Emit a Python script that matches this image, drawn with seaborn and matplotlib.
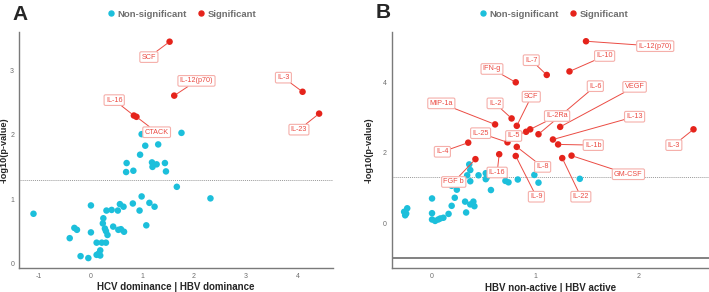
import matplotlib
matplotlib.use("Agg")
import matplotlib.pyplot as plt
from matplotlib.lines import Line2D
import seaborn as sns
import pandas as pd

sns.set_style("white")
plt.rcParams['font.family'] = ['Liberation Sans', 'DejaVu Sans']
plt.rcParams['axes.unicode_minus'] = False

# ---------------- data: panel A ----------------
a_ns_x = [-1.10, 0.01, -0.31, -0.26, -0.40, -0.19, -0.04, 0.01, 0.12, 0.22, 0.30,
          0.19, 0.16, 0.19, 0.12, 0.25, 0.24, 0.28, 0.30, 0.33, 0.31, 0.41, 0.44,
          0.53, 0.57, 0.64, 0.54, 0.59, 0.65, 0.82, 0.95, 0.99, 1.08, 1.14, 1.24,
          1.67, 2.32, 0.70, 0.69, 0.83, 1.19, 1.20, 1.28, 1.44, 1.46, 0.96, 1.06,
          1.31, 0.99, 1.76]
a_ns_y = [0.77, 0.90, 0.55, 0.52, 0.39, 0.11, 0.08, 0.48, 0.32, 0.32, 0.32,
          0.20, 0.15, 0.12, 0.13, 0.70, 0.62, 0.54, 0.50, 0.44, 0.82, 0.83, 0.57,
          0.82, 0.92, 0.88, 0.52, 0.53, 0.49, 0.93, 0.82, 1.04, 0.59, 0.94, 0.88,
          1.19, 1.01, 1.56, 1.42, 1.44, 1.57, 1.50, 1.54, 1.56, 1.43, 1.69, 1.83,
          1.85, 2.01, 2.03]
a_sig_names = ["SCF", "IL-12(p70)", "IL-3", "IL-23", "IL-16", "CTACK"]
a_sig_x = [1.53, 1.62, 4.10, 4.42, 0.84, 0.89]
a_sig_y = [3.45, 2.61, 2.67, 2.33, 2.30, 2.28]

# ---------------- data: panel B ----------------
b_ns_x = [-0.27, -0.24, -0.26, -0.25, 0.00, 0.00, 0.00, 0.03, 0.06, 0.08, 0.11,
          0.16, 0.19, 0.22, 0.19, 0.24, 0.32, 0.37, 0.40, 0.41, 0.33, 0.36, 0.37,
          0.34, 0.37, 0.45, 0.52, 0.53, 0.52, 0.57, 0.71, 0.74, 0.83, 0.99, 1.03,
          1.43]
b_ns_y = [0.32, 0.42, 0.22, 0.27, 0.70, 0.28, 0.10, 0.06, 0.10, 0.13, 0.15,
          0.26, 0.49, 0.72, 1.06, 0.95, 0.61, 0.53, 0.61, 0.48, 0.30, 1.67, 1.51,
          1.36, 1.19, 1.36, 1.42, 1.30, 1.25, 0.94, 1.20, 1.16, 1.24, 1.37, 1.15,
          1.26]
b_sig_names = ["IL-12(p70)", "IL-10", "IL-7", "IFN-g", "IL-6", "VEGF", "SCF", "MIP-1a",
               "IL-2", "IL-2Ra", "IL-13", "IL-25", "IL-5", "IL-1b", "IL-3", "IL-4",
               "IL-8", "GM-CSF", "IL-16", "FGF b", "IL-9", "IL-22"]
b_sig_x = [1.49, 1.33, 1.11, 0.81, 1.03, 1.24, 0.82, 0.61, 0.77, 0.95, 1.17, 0.73,
           0.91, 1.22, 2.53, 0.35, 0.82, 1.35, 0.65, 0.42, 0.81, 1.26]
b_sig_y = [5.18, 4.32, 4.22, 4.01, 2.53, 2.74, 2.77, 2.81, 2.98, 2.67, 2.38, 2.30,
           2.60, 2.24, 2.67, 2.29, 2.17, 1.92, 1.96, 1.82, 1.91, 1.85]

# label positions (layout)
a_label_pos = {"SCF": (1.13, 3.21), "IL-12(p70)": (2.05, 2.84), "IL-3": (3.73, 2.89),
               "IL-23": (4.03, 2.08), "IL-16": (0.46, 2.54), "CTACK": (1.28, 2.04)}
b_label_pos = {"IL-12(p70)": (2.16, 5.04), "IL-10": (1.67, 4.76), "IL-7": (0.96, 4.64),
               "IFN-g": (0.58, 4.39), "IL-6": (1.58, 3.90), "VEGF": (1.96, 3.88),
               "SCF": (0.96, 3.60), "MIP-1a": (0.09, 3.41), "IL-2": (0.61, 3.41),
               "IL-2Ra": (1.21, 3.05), "IL-13": (1.96, 3.03), "IL-25": (0.47, 2.56),
               "IL-5": (0.79, 2.48), "IL-1b": (1.56, 2.22), "IL-3": (2.34, 2.22),
               "IL-4": (0.10, 2.03), "IL-8": (1.07, 1.60), "GM-CSF": (1.90, 1.39),
               "IL-16": (0.63, 1.44), "FGF b": (0.21, 1.17), "IL-9": (1.01, 0.75),
               "IL-22": (1.44, 0.75)}

CYAN = "#1CBFDB"
RED = "#E5231B"
LABEL_RED = "#EB4B43"
BOX_EDGE = "#F5AFAA"

def make_df(nsx, nsy, sx, sy):
    return pd.DataFrame({
        "x": list(nsx) + list(sx),
        "y": list(nsy) + list(sy),
        "status": ["Non-significant"] * len(nsx) + ["Significant"] * len(sx),
    })

fig = plt.figure(figsize=(7.09, 2.92), dpi=100)
axA = fig.add_axes([0.0268, 0.0832, 0.443, 0.807])
axB = fig.add_axes([0.5525, 0.0812, 0.4475, 0.810])

def style_axis(ax):
    sns.despine(ax=ax)
    for s in ["left", "bottom"]:
        ax.spines[s].set_color("#7a7a7a")
        ax.spines[s].set_linewidth(1.0)
    ax.tick_params(axis="both", labelsize=5, colors="#7a7a7a", length=2, width=0.6,
                   labelcolor="#6e6e6e", pad=1.5)
    ax.set_facecolor("white")

def draw_panel(ax, nsx, nsy, names, sx, sy, label_pos):
    df = make_df(nsx, nsy, sx, sy)
    sns.scatterplot(data=df, x="x", y="y", hue="status",
                    palette={"Non-significant": CYAN, "Significant": RED},
                    s=22, linewidth=0, legend=False, ax=ax, zorder=3)
    for n, x, y in zip(names, sx, sy):
        lx, ly = label_pos[n]
        ax.annotate(n, xy=(x, y), xytext=(lx, ly), ha="center", va="center",
                    fontsize=5.2, color=LABEL_RED, zorder=4,
                    bbox=dict(boxstyle="round,pad=0.25,rounding_size=0.2",
                              fc="white", ec=BOX_EDGE, lw=0.8),
                    arrowprops=dict(arrowstyle="-", color=LABEL_RED, lw=0.7,
                                    shrinkA=0, shrinkB=2))

# Panel A
draw_panel(axA, a_ns_x, a_ns_y, a_sig_names, a_sig_x, a_sig_y, a_label_pos)
axA.axhline(1.301, color="#9a9a9a", lw=0.7, ls=(0, (1, 1)), zorder=1)
axA.set_xlim(-1.38, 4.69)
axA.set_ylim(-0.07, 3.6)
axA.set_xticks([-1, 0, 1, 2, 3, 4])
axA.set_yticks([0, 1, 2, 3])
style_axis(axA)
axA.set_xlabel("HCV dominance | HBV dominance", fontsize=7, fontweight="bold", labelpad=2)
axA.set_ylabel("-log10(p-value)", fontsize=6.6, fontweight="bold")
axA.yaxis.set_label_coords(-0.034, 0.5)

# Panel B
draw_panel(axB, b_ns_x, b_ns_y, b_sig_names, b_sig_x, b_sig_y, b_label_pos)
axB.axhline(1.301, color="#9a9a9a", lw=0.7, ls=(0, (1, 1)), zorder=1)
axB.axhline(-1.0, color="#777777", lw=1.3, zorder=1)
axB.set_xlim(-0.39, 2.68)
axB.set_ylim(-1.29, 5.45)
axB.set_xticks([0, 1, 2])
axB.set_yticks([0, 2, 4])
style_axis(axB)
axB.set_xlabel("HBV non-active | HBV active", fontsize=7, fontweight="bold", labelpad=2)
axB.set_ylabel("-log10(p-value)", fontsize=6.6, fontweight="bold")
axB.yaxis.set_label_coords(-0.058, 0.5)

# Legends
handles = [Line2D([], [], marker="o", ls="", color=CYAN, markersize=3.6),
           Line2D([], [], marker="o", ls="", color=RED, markersize=3.6)]
labels = ["Non-significant", "Significant"]
for cx in (0.255, 0.780):
    fig.legend(handles, labels, ncol=2, loc="center", bbox_to_anchor=(cx, 0.952),
               frameon=False, handletextpad=0.1, columnspacing=0.9,
               prop=dict(size=6.8, weight="bold"), labelcolor="#6f6f6f",
               handlelength=1.2)

# Panel letters
fig.text(0.018, 0.952, "A", fontsize=15, fontweight="bold", ha="left", va="center")
fig.text(0.530, 0.958, "B", fontsize=15, fontweight="bold", ha="left", va="center")

fig.savefig("out.png", dpi=100, facecolor="white")
